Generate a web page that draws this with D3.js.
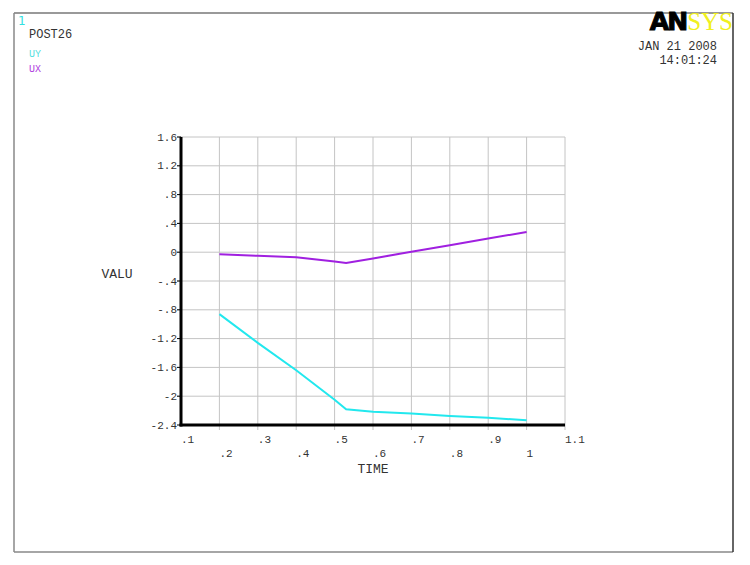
<!DOCTYPE html>
<html><head><meta charset="utf-8">
<script src="https://cdn.jsdelivr.net/npm/d3@7/dist/d3.min.js"></script>
<style>body{margin:0;background:#fff;} svg{display:block;}</style>
</head><body>
<svg id="c" width="750" height="565"></svg>
<script>
const times = [0.2, 0.3, 0.4, 0.5, 0.53, 0.6, 0.7, 0.8, 0.9, 1.0];
const uy = [-0.86, -1.26, -1.64, -2.05, -2.18, -2.215, -2.24, -2.275, -2.30, -2.335];
const ux = [-0.03, -0.05, -0.07, -0.13, -0.15, -0.086, 0.006, 0.097, 0.19, 0.28];
const xTicks = [0.1,0.2,0.3,0.4,0.5,0.6,0.7,0.8,0.9,1.0,1.1];
const xTickLabels = [".1",".2",".3",".4",".5",".6",".7",".8",".9","1","1.1"];
const yTicks = [1.6,1.2,0.8,0.4,0,-0.4,-0.8,-1.2,-1.6,-2,-2.4];
const yTickLabels = ["1.6","1.2",".8",".4","0","-.4","-.8","-1.2","-1.6","-2","-2.4"];

const mono = "'Liberation Mono','Courier New',monospace";
const svg = d3.select("#c");
// frame
svg.append("line").attr("x1",14).attr("y1",13).attr("x2",733).attr("y2",13).attr("stroke","#777").attr("stroke-width",1.5);
svg.append("line").attr("x1",14).attr("y1",13).attr("x2",14).attr("y2",552).attr("stroke","#888").attr("stroke-width",1.5);
svg.append("line").attr("x1",14).attr("y1",552).attr("x2",733).attr("y2",552).attr("stroke","#888").attr("stroke-width",1.5);
svg.append("line").attr("x1",733).attr("y1",13).attr("x2",733).attr("y2",552).attr("stroke","#333").attr("stroke-width",1.5);

const x = d3.scaleLinear().domain([0.1,1.1]).range([181,565]);
const y = d3.scaleLinear().domain([-2.4,1.6]).range([425,137]);

// grid
const g = svg.append("g");
g.selectAll(".vg").data(xTicks.slice(1)).enter().append("line")
  .attr("x1",d=>x(d)).attr("x2",d=>x(d)).attr("y1",y(1.6)).attr("y2",y(-2.4)+5)
  .attr("stroke","#c4c4c4").attr("stroke-width",1);
g.selectAll(".hg").data(yTicks.slice(0,-1)).enter().append("line")
  .attr("x1",x(0.1)-4).attr("x2",x(1.1)).attr("y1",d=>y(d)).attr("y2",d=>y(d))
  .attr("stroke","#c4c4c4").attr("stroke-width",1);
g.selectAll(".yt").data(yTicks).enter().append("line")
  .attr("x1",x(0.1)-4).attr("x2",x(0.1)).attr("y1",d=>y(d)).attr("y2",d=>y(d))
  .attr("stroke","#000").attr("stroke-width",1);

// axes
svg.append("line").attr("x1",x(0.1)).attr("x2",x(0.1)).attr("y1",y(1.6)).attr("y2",y(-2.4)+1.5).attr("stroke","#000").attr("stroke-width",3);
svg.append("line").attr("x1",x(0.1)-1.5).attr("x2",x(1.1)).attr("y1",y(-2.4)).attr("y2",y(-2.4)).attr("stroke","#000").attr("stroke-width",3);

// tick labels
svg.selectAll(".yl").data(yTicks).enter().append("text")
  .attr("x",x(0.1)-4).attr("y",d=>y(d)+3.5).attr("text-anchor","end")
  .attr("font-family",mono).attr("font-size",11).attr("fill","#333")
  .text((d,i)=>yTickLabels[i]);
svg.selectAll(".xl").data(xTicks).enter().append("text")
  .attr("x",d=>x(d)).attr("y",(d,i)=> i%2===0 ? 443 : 457).attr("text-anchor","start")
  .attr("font-family",mono).attr("font-size",11).attr("fill","#333")
  .text((d,i)=>xTickLabels[i]);

svg.append("text").attr("x",373).attr("y",473).attr("text-anchor","middle")
  .attr("font-family",mono).attr("font-size",13).attr("fill","#333").text("TIME");
svg.append("text").attr("x",117).attr("y",278).attr("text-anchor","middle")
  .attr("font-family",mono).attr("font-size",13).attr("fill","#333").text("VALU");

// lines
const line = d3.line().x(d=>x(d[0])).y(d=>y(d[1]));
svg.append("path").datum(times.map((t,i)=>[t,uy[i]])).attr("d",line)
  .attr("fill","none").attr("stroke","#22e8ee").attr("stroke-width",2);
svg.append("path").datum(times.map((t,i)=>[t,ux[i]])).attr("d",line)
  .attr("fill","none").attr("stroke","#a020e0").attr("stroke-width",2);

// header texts
svg.append("text").attr("x",18).attr("y",25).attr("font-family","'DejaVu Sans',sans-serif").attr("font-size",12).attr("fill","#33e0e0").text("1");
svg.append("text").attr("x",29).attr("y",38).attr("font-family",mono).attr("font-size",12).attr("fill","#333").text("POST26");
svg.append("text").attr("x",29).attr("y",57).attr("font-family",mono).attr("font-size",10).attr("fill","#55e0e0").text("UY");
svg.append("text").attr("x",29).attr("y",72).attr("font-family",mono).attr("font-size",10).attr("fill","#b040e0").text("UX");
svg.append("text").attr("x",717).attr("y",50).attr("text-anchor","end").attr("font-family",mono).attr("font-size",12).attr("fill","#333").text("JAN 21 2008");
svg.append("text").attr("x",717).attr("y",64).attr("text-anchor","end").attr("font-family",mono).attr("font-size",12).attr("fill","#333").text("14:01:24");

// logo
const logo = svg.append("text").attr("x",733).attr("y",30).attr("text-anchor","end").attr("font-size",25);
logo.append("tspan").attr("font-family","'DejaVu Sans',sans-serif").attr("font-weight","900").attr("fill","#000").attr("letter-spacing",-2).attr("stroke","#000").attr("stroke-width",1).text("AN");
logo.append("tspan").attr("font-family","'Liberation Serif','Times New Roman',serif").attr("fill","#f0f020").attr("dx",1).text("SYS");
</script>
</body></html>
